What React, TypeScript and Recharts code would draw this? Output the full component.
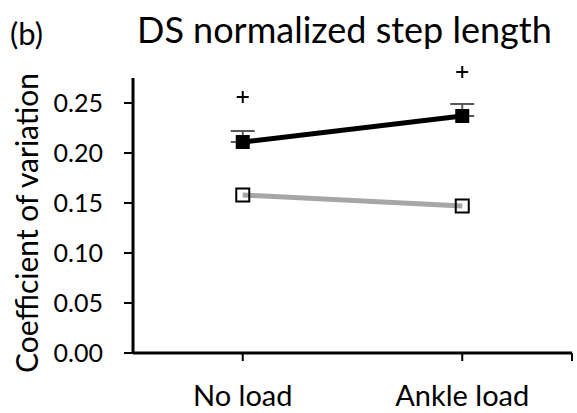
import React from "react";
import { ComposedChart, Line, XAxis, YAxis, ErrorBar, ReferenceDot } from "recharts";

const categories = ["No load", "Ankle load"];
const loadedCV = [0.211, 0.237];
const loadedSE = [0.011, 0.012];
const unloadedCV = [0.158, 0.147];
const plusMarks = [0.256, 0.281];
const yTicks = [0, 0.05, 0.1, 0.15, 0.2, 0.25];
const xTicks = [0, 1, 1.5];

const data = categories.map((c, i) => ({
  idx: i,
  loaded: loadedCV[i],
  loadedErr: [0, loadedSE[i]],
  unloaded: unloadedCV[i],
}));

const FONT = "Lato, sans-serif";

const BlackSquare = (p: any) => {
  const s = 14;
  return <rect key={`b${p.index}`} x={p.cx - s / 2} y={p.cy - s / 2} width={s} height={s} fill="#000" />;
};
const WhiteSquare = (p: any) => {
  const s = 13;
  return (
    <rect key={`w${p.index}`} x={p.cx - s / 2} y={p.cy - s / 2} width={s} height={s} fill="#fff" fillOpacity={0} stroke="#000" strokeWidth={2} />
  );
};
const PlusShape = (p: any) => (
  <g>
    <line x1={p.cx - 6} x2={p.cx + 6} y1={p.cy} y2={p.cy} stroke="#000" strokeWidth={2} />
    <line x1={p.cx} x2={p.cx} y1={p.cy - 6} y2={p.cy + 6} stroke="#000" strokeWidth={2} />
  </g>
);

export default function App() {
  return (
    <div style={{ position: "absolute", left: 0, top: 0, width: 577, height: 413, background: "#fff", fontFamily: FONT }}>
      <ComposedChart width={577} height={413} data={data} margin={{ top: 78, right: 5, bottom: 30, left: 0 }}>
        <XAxis
          dataKey="idx"
          type="number"
          domain={[-0.5, 1.5]}
          ticks={xTicks}
          tickFormatter={(v: number) => categories[v] ?? ""}
          interval={0}
          height={30}
          axisLine={{ stroke: "#000", strokeWidth: 3 }}
          tickLine={{ stroke: "#000", strokeWidth: 2 }}
          tickSize={8}
          tickMargin={24}
          tick={{ fill: "#000", fontSize: 29, fontFamily: FONT }}
        />
        <YAxis
          type="number"
          domain={[0, 0.275]}
          ticks={yTicks}
          tickFormatter={(v: number) => v.toFixed(2)}
          width={133}
          axisLine={{ stroke: "#000", strokeWidth: 3 }}
          tickLine={{ stroke: "#000", strokeWidth: 2 }}
          tickSize={9}
          tickMargin={21}
          tick={{ fill: "#000", fontSize: 25, fontFamily: FONT }}
          label={() => (
            <text
              x={26}
              y={223}
              transform="rotate(-90 26 223)"
              textAnchor="middle"
              dominantBaseline="central"
              fontSize={30}
              fontFamily={FONT}
              fill="#000"
            >
              Coefficient of variation
            </text>
          )}
        />
        <Line
          dataKey="unloaded"
          stroke="#a6a6a6"
          strokeWidth={5}
          dot={<WhiteSquare />}
          activeDot={false}
          isAnimationActive={false}
        />
        <Line
          dataKey="loaded"
          stroke="#000"
          strokeWidth={5}
          dot={<BlackSquare />}
          activeDot={false}
          isAnimationActive={false}
        >
          <ErrorBar dataKey="loadedErr" direction="y" width={12} stroke="#595959" strokeWidth={2} />
        </Line>
        {categories.map((c, i) => (
          <ReferenceDot key={c} x={i} y={plusMarks[i]} ifOverflow="visible" shape={PlusShape} />
        ))}
      </ComposedChart>
      <svg width={577} height={70} style={{ position: "absolute", left: 0, top: 0, pointerEvents: "none" }}>
        <text x={10} y={45} fontSize={31} fontFamily={FONT} fill="#000">(b)</text>
        <text x={137} y={43} fontSize={36} fontFamily={FONT} fill="#000">DS normalized step length</text>
      </svg>
    </div>
  );
}
